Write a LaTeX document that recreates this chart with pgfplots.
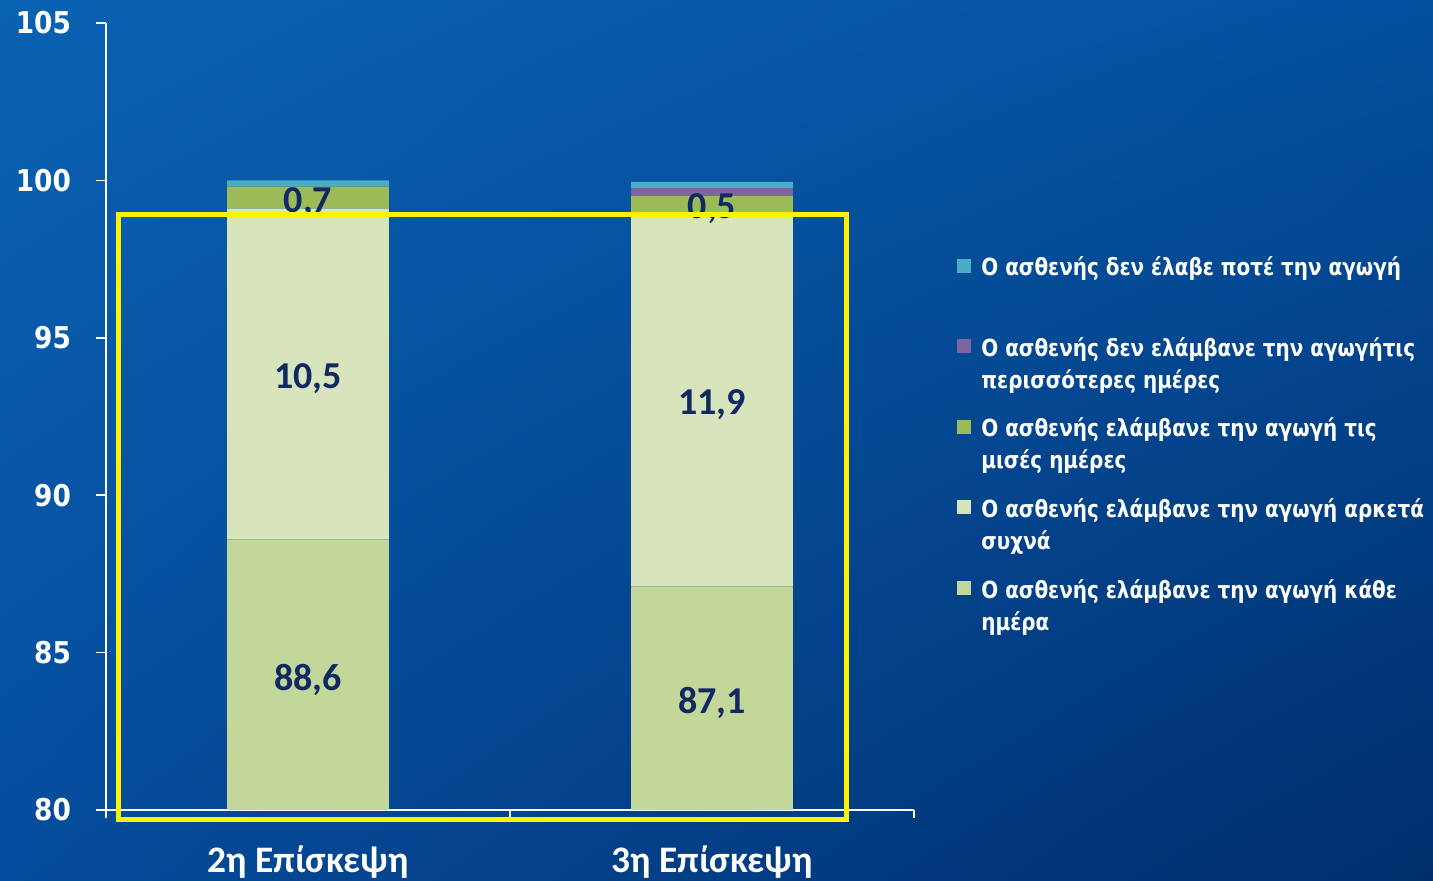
\documentclass[border=0pt]{standalone}
\usepackage{pgfplots}
\pgfplotsset{compat=1.18}
\usetikzlibrary{shadings,backgrounds}
\usepackage{fontspec}
\setmainfont{DejaVu Sans}
\newfontfamily\tah{DejaVu Sans}[FakeStretch=0.88]
\newfontfamily\tahl{DejaVu Sans}[FakeStretch=0.845]
\newfontfamily\carl{Carlito}
\definecolor{bgTL}{RGB}{10,98,178}
\definecolor{bgTR}{RGB}{4,80,158}
\definecolor{bgBL}{RGB}{5,76,156}
\definecolor{bgBR}{RGB}{0,46,108}
\definecolor{cA}{RGB}{196,215,155}
\definecolor{cB}{RGB}{216,228,188}
\definecolor{cC}{RGB}{155,187,89}
\definecolor{cD}{RGB}{128,100,162}
\definecolor{cE}{RGB}{75,172,198}
\definecolor{lab}{RGB}{16,40,100}
\newcommand\ent[2]{\vtop{\hbox{\strut #1}\hbox{\strut #2}}}
\begin{document}
\begin{tikzpicture}[x=1pt,y=1pt]
\begin{axis}[
  name=main, at={(0,0)}, anchor=south west,
  scale only axis, width=404pt, height=393.5pt,
  ybar stacked, bar width=0.4,
  xmin=-0.5, xmax=1.5, ymin=80, ymax=105,
  ytick={80,85,90,95,100,105},
  xtick={0,1}, xticklabels={2η Επίσκεψη,3η Επίσκεψη},
  minor xtick={-0.5,0.5,1.5},
  axis x line*=bottom, axis y line*=left,
  x axis line style={white,line width=0.8pt,-},
  y axis line style={white,line width=0.8pt,-},
  tick align=outside,
  major tick length=5pt, minor tick length=4pt,
  major x tick style={draw=none},
  minor x tick style={white,line width=0.8pt},
  ytick style={white,line width=0.8pt},
  /pgf/number format/assume math mode=true,
  yticklabel style={font=\tah\bfseries\fontsize{15}{18}\selectfont, text=white, xshift=-9pt},
  xticklabel style={font=\carl\bfseries\fontsize{18.7}{22}\selectfont, text=white, yshift=-9.5pt},
  reverse legend,
  legend style={at={(1.0532,0.708)}, anchor=north west, draw=none, fill=none,
    font=\tahl\bfseries\fontsize{11.8}{16}\selectfont, text=white,
    inner sep=0pt, row sep=27.6pt, column sep=5pt, cells={anchor=base west}, nodes={inner sep=0pt}},
  legend image code/.code={\fill[#1] (0pt,1.5pt) rectangle (7pt,8.5pt);},
]
\addplot[fill=cA, draw=none] coordinates {(0,88.6) (1,87.1)};
\addplot[fill=cB, draw=none] coordinates {(0,10.5) (1,11.9)};
\addplot[fill=cC, draw=none] coordinates {(0,0.7) (1,0.5)};
\addplot[fill=cD, draw=none] coordinates {(0,0) (1,0.25)};
\addplot[fill=cE, draw=none] coordinates {(0,0.2) (1,0.2)};
\legend{\ent{Ο ασθενής ελάμβανε την αγωγή κάθε}{ημέρα},
        \ent{Ο ασθενής ελάμβανε την αγωγή αρκετά}{συχνά},
        \ent{Ο ασθενής ελάμβανε την αγωγή τις}{μισές ημέρες},
        \ent{Ο ασθενής δεν ελάμβανε την αγωγήτις}{περισσότερες ημέρες},
        \ent{Ο ασθενής δεν έλαβε ποτέ την αγωγή}{}}
\coordinate (SW) at (rel axis cs:0,0);
\coordinate (Y1) at (axis cs:-0.468,79.71);
\coordinate (Y2) at (axis cs:1.334,98.93);
\end{axis}
% value labels, at the middle of each visible segment
\begin{axis}[
  at={(SW)}, anchor=south west,
  scale only axis, width=404pt, height=393.5pt,
  xmin=-0.5, xmax=1.5, ymin=80, ymax=105,
  hide axis, clip=false,
]
\addplot[only marks, mark=text, text mark={},
  point meta=explicit symbolic, nodes near coords,
  every node near coord/.style={anchor=center, yshift=-2.5pt, font=\carl\bfseries\fontsize{19}{22}\selectfont, text=lab}]
  coordinates {(0,84.3)[88{,}6] (0,93.85)[10{,}5] (0,99.45)[0{,}7]
               (1,83.55)[87{,}1] (1,93.05)[11{,}9] (1,99.25)[0{,}5]};
\end{axis}
\draw[yellow, line width=2.5pt] (Y1) rectangle (Y2);
\pgfresetboundingbox
\path[use as bounding box] ([shift={(-53pt,-35.5pt)}]SW) rectangle ([shift={(663.5pt,405pt)}]SW);
\begin{scope}[on background layer]
\shade[upper left=bgTL, upper right=bgTR, lower left=bgBL, lower right=bgBR] ([shift={(-53pt,-35.5pt)}]SW) rectangle ([shift={(663.5pt,405pt)}]SW);
\end{scope}
\end{tikzpicture}
\end{document}
